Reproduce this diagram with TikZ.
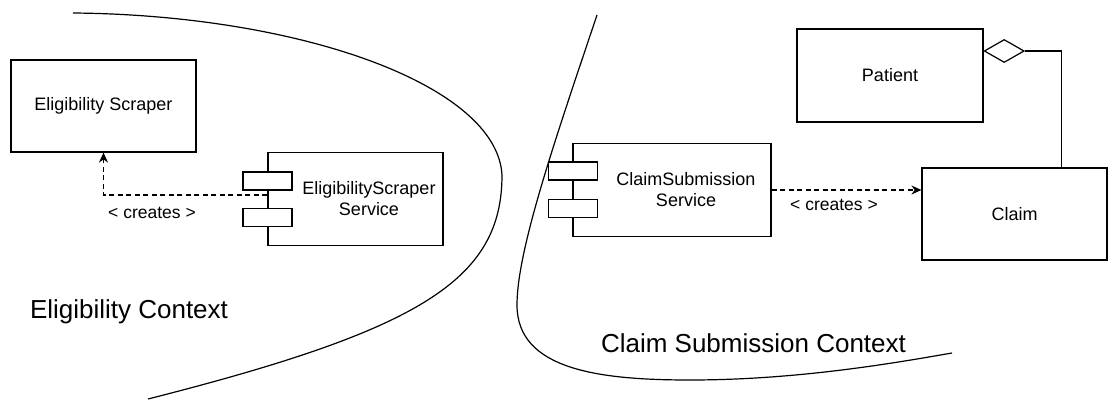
\documentclass[tikz,border=0pt]{standalone}
\usepackage{fontspec}
\setmainfont{Liberation Sans}
\usetikzlibrary{arrows.meta, positioning, shapes.geometric, calc}

\begin{document}
\begin{tikzpicture}[x=1pt, y=-1pt, line width=1.2pt, >={Stealth[length=10pt,width=9pt]},
    cls/.style={draw, fill=white, inner sep=0pt, minimum width=185pt, minimum height=92pt, font=\fontsize{18}{21}\selectfont},
    comp/.style={draw, fill=white, inner sep=0pt, minimum height=93pt},
    port/.style={draw, fill=white, inner sep=0pt, minimum width=49pt, minimum height=18pt},
    txt/.style={align=center, inner sep=0pt, font=\fontsize{18}{21}\selectfont},
    lbl/.style={inner sep=0pt, font=\fontsize{17.5}{21}\selectfont},
    ctx/.style={inner sep=0pt, font=\fontsize{26}{30}\selectfont},
    dep/.style={->, dash pattern=on 5pt off 3.5pt}]
    \useasboundingbox (0,0) rectangle (1111,399);

    % context boundaries
    \draw (73,13) .. controls (300,15) and (497,85) .. (502,175)
        .. controls (502,280) and (420,330) .. (148,399);
    \draw (597,15) .. controls (555,140) and (517,250) .. (517,305)
        .. controls (517,370) and (600,380) .. (690,380)
        .. controls (800,380) and (900,362) .. (952,353);

    % eligibility context
    \node[cls] (scraper) at (103.5,106) {Eligibility Scraper};
    \node[comp, minimum width=175pt] (scrsvc) at (355.5,199) {};
    \node[port] (scrport1) at (267.5,181) {};
    \node[port] (scrport2) at (267.5,217.5) {};
    \node[txt] (scrsvctxt) at (369,199) {EligibilityScraper\\Service};
    \node[ctx] (eligctx) at (129,312) {Eligibility Context};

    % claim submission context
    \node[comp, minimum width=198pt] (clmsvc) at (672,190) {};
    \node[port] (clmport1) at (573,171) {};
    \node[port] (clmport2) at (573,208.5) {};
    \node[txt] (clmsvctxt) at (686,190) {ClaimSubmission\\Service};
    \node[cls, minimum width=186pt, minimum height=93pt] (patient) at (890,75.5) {Patient};
    \node[cls] (claim) at (1014.5,214) {Claim};
    \node[draw, diamond, fill=white, inner sep=0pt, minimum width=40pt, minimum height=23pt,
        anchor=west] (agg) at (patient.east |- 0,51) {};
    \node[ctx] (clmctx) at (753.5,343) {Claim Submission Context};

    % connectors
    \draw[dep] ($(scrsvc.west)+(0,-4)$) -| (scraper.south);
    \node[lbl] at (152,213) {\textless{} creates \textgreater};
    \draw[dep] (clmsvc.east) -- (clmsvc.east -| claim.west);
    \node[lbl] at (834,205) {\textless{} creates \textgreater};
    \draw (agg.east) -| ($(claim.north east)+(-46,0)$);
\end{tikzpicture}
\end{document}
